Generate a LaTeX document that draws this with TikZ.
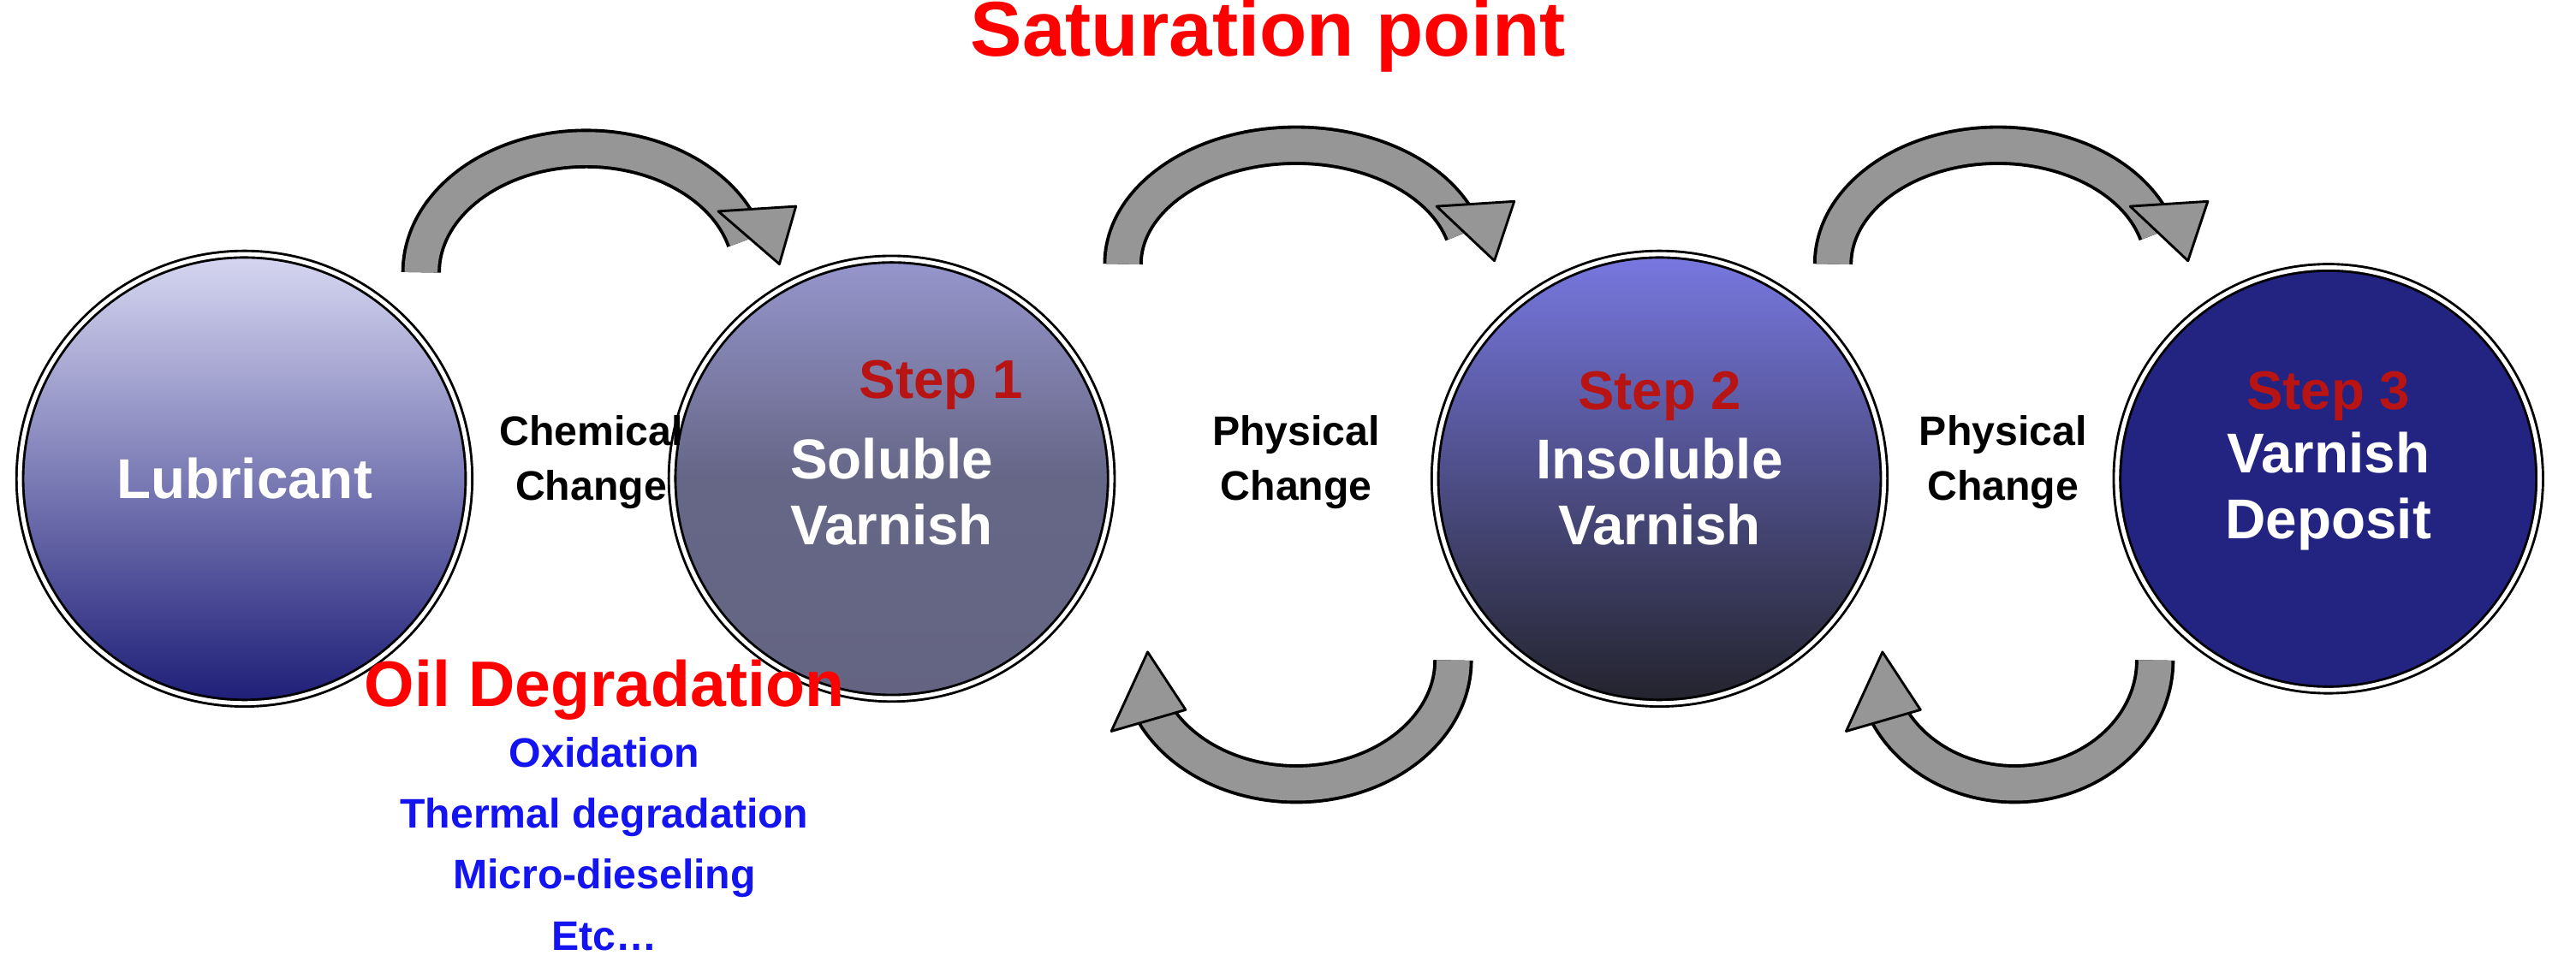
\documentclass[tikz,border=0pt]{standalone}
\usepackage{fontspec}
\setmainfont{Liberation Sans}
\definecolor{stepred}{RGB}{185,20,20}
\definecolor{degblue}{RGB}{20,20,240}
\definecolor{arrgray}{RGB}{150,150,150}
\tikzset{
  stage/.style={circle,minimum size=266pt,draw=black,line width=1.5pt,
    double=white,double distance=2.5pt,align=center,text=white,
    font=\fontsize{34}{40}\selectfont\bfseries},
  steplabel/.style={text=stepred,font=\fontsize{33}{38}\selectfont\bfseries},
  stagelabel/.style={align=center,font=\fontsize{25}{33}\selectfont\bfseries},
  bandfill/.style={line width=20pt,arrgray},
  bandline/.style={line width=24pt,black},
  headfill/.style={fill=arrgray,draw=black,line width=1.5pt,line join=round}
}
\begin{document}
\begin{tikzpicture}[x=1pt,y=-1pt]
\useasboundingbox (0,0) rectangle (1560,593);
% stages
\node[stage,minimum size=272pt,top color={rgb,255:red,215;green,215;blue,242},bottom color={rgb,255:red,30;green,30;blue,120}] (lub) at (148,290) {Lubricant};
\node[stage,top color={rgb,255:red,150;green,150;blue,205},bottom color={rgb,255:red,100;green,100;blue,130},middle color={rgb,255:red,102;green,102;blue,135}] (sol) at (540,290) {\\Soluble\\Varnish};
\node[stage,minimum size=272pt,top color={rgb,255:red,120;green,120;blue,225},bottom color={rgb,255:red,35;green,35;blue,45}] (ins) at (1005,290) {\\Insoluble\\Varnish};
\node[stage,minimum size=256pt,fill={rgb,255:red,35;green,35;blue,130}] (dep) at (1410,290) {\\Varnish\\Deposit};
\node[steplabel] (s1) at (570,233) {Step 1};
\node[steplabel] (s2) at (1005,240) {Step 2};
\node[steplabel] (s3) at (1410,240) {Step 3};
% change labels
\node[stagelabel] (chem) at (358,280) {Chemical\\Change};
\node[stagelabel] (phys1) at (785,280) {Physical\\Change};
\node[stagelabel] (phys2) at (1213,280) {Physical\\Change};
% top arrows
\draw[bandline] (255,165) arc [start angle=180,end angle=345,x radius=100,y radius=75];
\draw[bandfill] (255,165) arc [start angle=180,end angle=345,x radius=100,y radius=75];
\draw[headfill] (435,128) -- (482,125) -- (472,160) -- cycle;
\draw[bandline] (680,160) arc [start angle=180,end angle=345,x radius=105,y radius=72];
\draw[bandfill] (680,160) arc [start angle=180,end angle=345,x radius=105,y radius=72];
\draw[headfill] (870,125) -- (917,122) -- (905,158) -- cycle;
\draw[bandline] (1110,160) arc [start angle=180,end angle=345,x radius=100,y radius=72];
\draw[bandfill] (1110,160) arc [start angle=180,end angle=345,x radius=100,y radius=72];
\draw[headfill] (1290,125) -- (1337,122) -- (1325,158) -- cycle;
% bottom arrows
\draw[bandline] (880,400) arc [start angle=0,end angle=165,x radius=95,y radius=75];
\draw[bandfill] (880,400) arc [start angle=0,end angle=165,x radius=95,y radius=75];
\draw[headfill] (673,443) -- (718,430) -- (695,395) -- cycle;
\draw[bandline] (1305,400) arc [start angle=0,end angle=165,x radius=85,y radius=75];
\draw[bandfill] (1305,400) arc [start angle=0,end angle=165,x radius=85,y radius=75];
\draw[headfill] (1118,443) -- (1163,430) -- (1140,395) -- cycle;
% texts
\node[text=red,font=\fontsize{47}{52}\selectfont\bfseries] (sat) at (768,22) {Saturation point};
\node[text=red,font=\fontsize{39}{44}\selectfont\bfseries] (deg) at (366,418) {Oil Degradation};
\node[text=degblue,align=center,font=\fontsize{25}{37}\selectfont\bfseries,anchor=north] (causes) at (366,443) {Oxidation\\Thermal degradation\\Micro-dieseling\\Etc\ldots};
\end{tikzpicture}
\end{document}
